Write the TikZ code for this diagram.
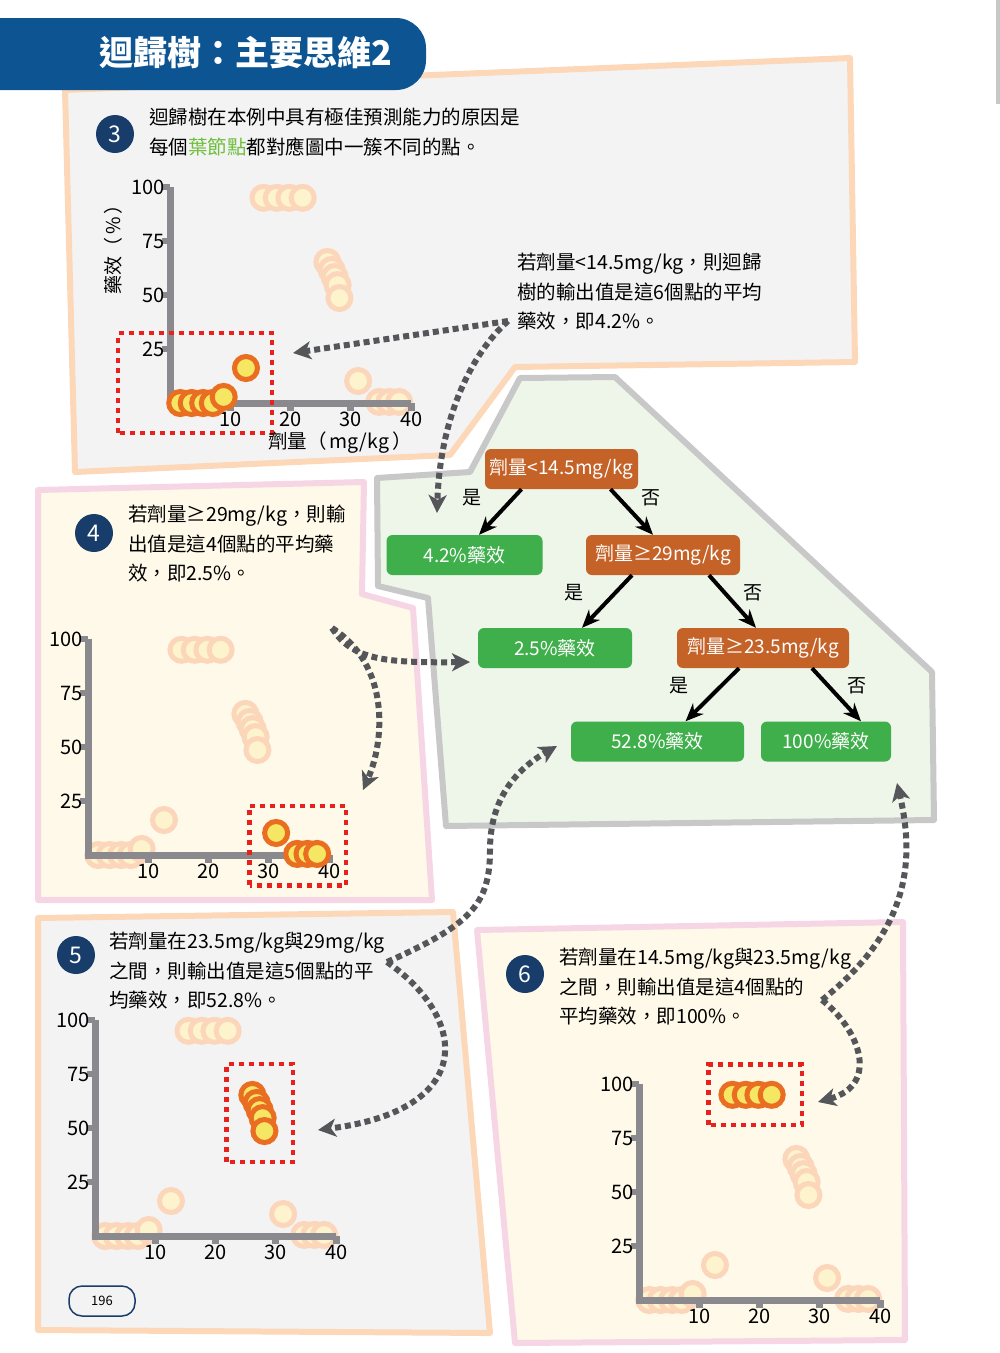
\documentclass[tikz,border=0pt]{standalone}
\usepackage{fontspec}
\setmainfont{Noto Sans CJK TC}
\usetikzlibrary{arrows.meta}
\definecolor{titleblue}{RGB}{12,84,146}
\definecolor{badgeblue}{RGB}{24,61,107}
\definecolor{panelgray}{RGB}{243,243,243}
\definecolor{panelcream}{RGB}{254,249,232}
\definecolor{panelgreen}{RGB}{238,245,233}
\definecolor{rimorange}{RGB}{252,216,184}
\definecolor{rimpink}{RGB}{246,214,228}
\definecolor{rimgray}{RGB}{200,200,200}
\definecolor{axisgray}{RGB}{138,138,142}
\definecolor{dotring}{RGB}{234,110,34}
\definecolor{dotfill}{RGB}{245,230,100}
\definecolor{fadering}{RGB}{252,214,186}
\definecolor{fadefill}{RGB}{253,243,205}
\definecolor{leafgreen}{RGB}{62,175,74}
\definecolor{splitorange}{RGB}{196,98,40}
\definecolor{hintgreen}{RGB}{110,190,60}
\definecolor{linkgray}{RGB}{85,86,90}
\definecolor{boxred}{RGB}{232,32,30}
% data points (dose, effect) of each leaf
\newcommand\ptsA{1.7/0,3.6/0,5.5/0,7.1/0,8.9/2.8,12.6/16.2}
\newcommand\ptsB{15.5/95,17.7/95,19.8/95,22/95}
\newcommand\ptsC{26.1/65.3,26.8/61.6,27.3/58.3,27.8/54.6,28.1/48.6}
\newcommand\ptsD{31.2/10.2,34.7/0.5,36.4/0.5,38/0.5}
\newcommand\ptsAll{1.7/0,3.6/0,5.5/0,7.1/0,8.9/2.8,12.6/16.2,15.5/95,17.7/95,19.8/95,22/95,26.1/65.3,26.8/61.6,27.3/58.3,27.8/54.6,28.1/48.6,31.2/10.2,34.7/0.5,36.4/0.5,38/0.5}
\begin{document}
\begin{tikzpicture}[x=1pt,y=-1pt,
  panel/.style={line width=6pt,line join=round},
  badge/.style={circle,fill=badgeblue,text=white,minimum size=38pt,inner sep=0pt,font=\fontsize{23}{23}\selectfont},
  note/.style={anchor=north west,align=left,inner sep=0pt,font=\fontsize{19.5}{29.5}\selectfont},
  split/.style={fill=splitorange,text=white,rounded corners=6pt,minimum height=40pt,inner sep=2pt,font=\fontsize{19}{20}\selectfont},
  leaf/.style={split,fill=leafgreen},
  branch/.style={line width=4pt,-{Stealth[length=18pt,width=15pt]}},
  branchlabel/.style={inner sep=0pt,font=\fontsize{19}{20}\selectfont},
  link/.style={linkgray,line width=6pt,dash pattern=on 6pt off 4pt,-{Stealth[length=18pt,width=18pt,inset=5pt]}},
  redbox/.style={boxred,line width=4.5pt,dash pattern=on 5pt off 5pt},
  axisline/.style={axisgray,line width=7pt,line join=miter},
  hidot/.style={draw=dotring,fill=dotfill,line width=5pt},
  fadedot/.style={draw=fadering,fill=fadefill,line width=5pt},
  ticklabel/.style={inner sep=1pt,font=\fontsize{20}{22}\selectfont}]
  \useasboundingbox (0,0) rectangle (1000,1353);
  \fill[rimgray] (996,0) rectangle (1000,104);

  % panels
  \filldraw[panel,fill=panelgreen,draw=rimgray] (377,478) -- (470,472) -- (520,378) -- (615,377) -- (932,672) -- (934,820) -- (446,826) -- (428,598) -- (378,586) -- cycle;
  \filldraw[panel,fill=panelgray,draw=rimorange] (65,90) -- (850,58) -- (855,362) -- (515,367) -- (450,455) -- (75,472) -- cycle;
  \filldraw[panel,fill=panelcream,draw=rimpink] (38,490) -- (364,482) -- (362,594) -- (413,608) -- (432,900) -- (38,900) -- cycle;
  \filldraw[panel,fill=panelgray,draw=rimorange] (38,918) -- (453,912) -- (490,1333) -- (38,1330) -- cycle;
  \filldraw[panel,fill=panelcream,draw=rimpink] (477,930) -- (903,922) -- (905,1340) -- (515,1343) -- cycle;

  % title
  \fill[titleblue,rounded corners=30pt] (-40,18) rectangle (426,90);
  \node[text=white,font=\fontsize{34}{38}\selectfont\bfseries] (title) at (246,53) {迴歸樹：主要思維2};

  % four charts
  \foreach \ox/\oy/\hl/\bx/\by/\bX/\bY in {170/403/A/-8.6/-13.8/16.9/32.3, 88/855/D/26.8/-14/42.8/22.8,
      95/1236/C/21.8/34.3/32.8/79.6, 639/1300/B/11.5/81/27/109}{
    \begin{scope}[shift={(\ox,\oy)},x=6.03pt,y=2.16pt]
      \foreach \px/\py in \ptsAll
        \draw[fadedot] (\px,\py) circle (11.5pt);
      \draw[axisline] (0,100) -- (0,0) -- (40,0);
      \foreach \v in {25,50,75,100}{
        \draw[axisgray,line width=6pt] (0,\v) -- ++(-8pt,0);
        \node[ticklabel,anchor=east] at ([xshift=-4pt]0,\v) {\v};
      }
      \foreach \v in {10,20,30,40}{
        \draw[axisgray,line width=7pt] (\v,0) -- ++(0,-8pt);
        \node[ticklabel,anchor=north] at ([yshift=-8pt]\v,0) {\v};
      }
      \expandafter\let\expandafter\hlpts\csname pts\hl\endcsname
      \foreach \px/\py in \hlpts
        \draw[hidot] (\px,\py) circle (11.5pt);
      \draw[redbox] (\bx,\by) rectangle (\bX,\bY);
    \end{scope}
  }
  \node[rotate=90,font=\fontsize{19}{20}\selectfont] (ylab) at (113,245) {藥效（\,\%\,）};
  \node[font=\fontsize{19.5}{20}\selectfont] (xlab) at (340,443) {劑量（\,mg/kg\,）};

  % badges and notes
  \node[badge] (n3) at (115,134) {3};
  \node[badge] (n4) at (94,533) {4};
  \node[badge] (n5) at (76,955) {5};
  \node[badge] (n6) at (525,974) {6};
  \node[note] (text3) at (149,108) {迴歸樹在本例中具有極佳預測能力的原因是\\每個\textcolor{hintgreen}{葉節點}都對應圖中一簇不同的點。};
  \node[note] (hint3) at (517,253) {若劑量<14.5mg/kg，則迴歸\\樹的輸出值是這6個點的平均\\藥效，即4.2\%。};
  \node[note] (hint4) at (128,505) {若劑量≥29mg/kg，則輸\\出值是這4個點的平均藥\\效，即2.5\%。};
  \node[note] (hint5) at (109,932) {若劑量在23.5mg/kg與29mg/kg\\之間，則輸出值是這5個點的平\\均藥效，即52.8\%。};
  \node[note] (hint6) at (559,948) {若劑量在14.5mg/kg與23.5mg/kg\\之間，則輸出值是這4個點的\\平均藥效，即100\%。};
  \node[draw=badgeblue,line width=1.5pt,rounded corners=13pt,minimum width=66pt,minimum height=30pt,font=\fontsize{13}{13}\selectfont] (pageno) at (102,1301) {196};

  % tree
  \node[split,minimum width=153pt] (root) at (561.5,469) {劑量<14.5mg/kg};
  \node[leaf,minimum width=156pt] (leaf42) at (464.5,555) {4.2\%藥效};
  \node[split,minimum width=154pt] (cut29) at (663,555) {劑量≥29mg/kg};
  \node[leaf,minimum width=154pt] (leaf25) at (555,648) {2.5\%藥效};
  \node[split,minimum width=172pt] (cut235) at (763,648) {劑量≥23.5mg/kg};
  \node[leaf,minimum width=173pt] (leaf528) at (657.5,741.5) {52.8\%藥效};
  \node[leaf,minimum width=130pt] (leaf100) at (826,741.5) {100\%藥效};
  \draw[branch] ([xshift=-40pt]root.south) -- ([xshift=14.5pt]leaf42.north);
  \draw[branch] ([xshift=49pt]root.south) -- ([xshift=-10pt]cut29.north);
  \draw[branch] ([xshift=-31pt]cut29.south) -- ([xshift=27pt]leaf25.north);
  \draw[branch] ([xshift=46pt]cut29.south) -- ([xshift=-7pt]cut235.north);
  \draw[branch] ([xshift=-24pt]cut235.south) -- ([xshift=28pt]leaf528.north);
  \draw[branch] ([xshift=49pt]cut235.south) -- ([xshift=35pt]leaf100.north);
  \node[branchlabel] (yes1) at (472,498) {是};
  \node[branchlabel] (no1) at (651,498) {否};
  \node[branchlabel] (yes2) at (574,593) {是};
  \node[branchlabel] (no2) at (753,593) {否};
  \node[branchlabel] (yes3) at (679,686) {是};
  \node[branchlabel] (no3) at (857,686) {否};

  % dotted links
  \coordinate (from3) at (508,321);
  \coordinate (to3a) at (293,353);
  \coordinate (to3b) at (437,513);
  \coordinate (from4) at (332,628);
  \coordinate (to4a) at (470,662);
  \coordinate (to4b) at (363,790);
  \coordinate (from5) at (387,962);
  \coordinate (to5a) at (557,746);
  \coordinate (to5b) at (318,1130);
  \coordinate (from6) at (822,1000);
  \coordinate (to6a) at (897,783);
  \coordinate (to6b) at (818,1102);
  \draw[link] (from3) -- (to3a);
  \draw[link] (from3) .. controls (470,355) and (440,420) .. (to3b);
  \draw[link] (from4) .. controls (352,660) and (385,663) .. (to4a);
  \draw[link] (from4) .. controls (390,665) and (385,740) .. (to4b);
  \draw[link] (from5) .. controls (470,925) and (490,905) .. (490,850) .. controls (490,800) and (515,770) .. (to5a);
  \draw[link] (from5) .. controls (470,1020) and (475,1110) .. (to5b);
  \draw[link] (from6) .. controls (910,930) and (915,860) .. (to6a);
  \draw[link] (from6) .. controls (860,1030) and (880,1085) .. (to6b);
\end{tikzpicture}
\end{document}
